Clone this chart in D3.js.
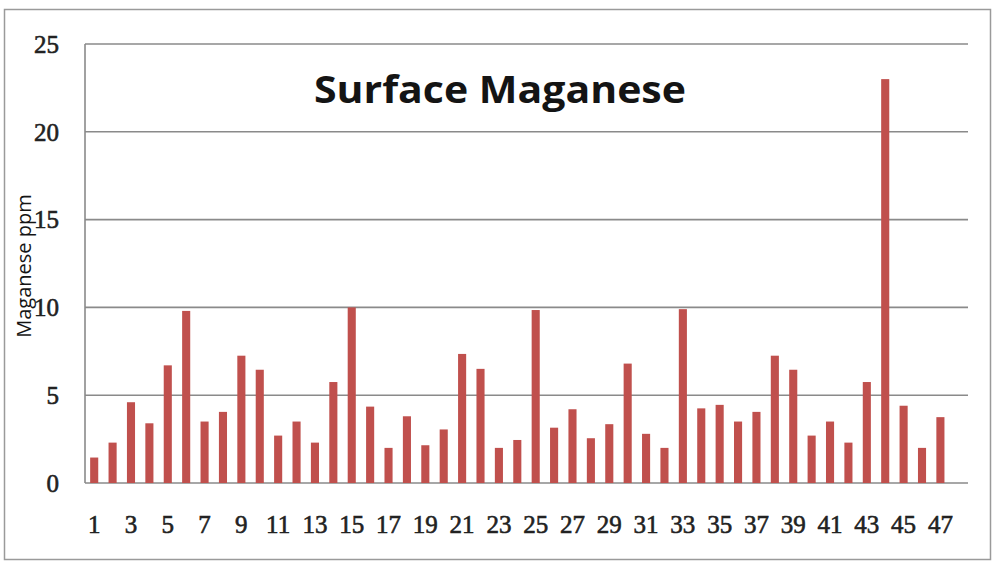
<!DOCTYPE html>
<html>
<head>
<meta charset="utf-8">
<script src="https://cdn.jsdelivr.net/npm/d3@7"></script>
<style>
  body { margin: 0; background: #fff; }
  svg { display: block; }
</style>
</head>
<body>
<div id="figure"></div>
<script>

// sample numbers 1..47, plus an empty 48th slot like the original sheet
var categories = [1,2,3,4,5,6,7,8,9,10,11,12,13,14,15,16,17,18,19,20,21,22,23,24,
                  25,26,27,28,29,30,31,32,33,34,35,36,37,38,39,40,41,42,43,44,45,46,47,48];

var manganese = [1.45, 2.3, 4.6, 3.4, 6.7, 9.8, 3.5, 4.05, 7.25, 6.45,
                 2.7, 3.5, 2.3, 5.75, 10.0, 4.35, 2.0, 3.8, 2.15, 3.05,
                 7.35, 6.5, 2.0, 2.45, 9.85, 3.15, 4.2, 2.55, 3.35, 6.8,
                 2.8, 2.0, 9.9, 4.25, 4.45, 3.5, 4.05, 7.25, 6.45, 2.7,
                 3.5, 2.3, 5.75, 23.0, 4.4, 2.0, 3.75];

var yTicks = [0, 5, 10, 15, 20, 25];
var xTickLabels = [1,3,5,7,9,11,13,15,17,19,21,23,25,27,29,31,33,35,37,39,41,43,45,47];

var W = 995, H = 563;
var plot = {left: 85, right: 968, top: 44, bottom: 483};
var gridColor = "#8a8a8a";
var barColor = "#c0504d";

var svg = d3.select("#figure").append("svg")
	.attr("width", W)
	.attr("height", H);

// outer frame
svg.append("rect")
	.attr("x", 4.5).attr("y", 9.5)
	.attr("width", 986).attr("height", 550)
	.attr("fill", "#fff")
	.attr("stroke", "#9a9a9a")
	.attr("stroke-width", 1.5);

var x = d3.scaleBand()
	.domain(categories)
	.range([plot.left, plot.right])
	.paddingInner(0.56)
	.paddingOuter(0.28);

var y = d3.scaleLinear()
	.domain([0, 25])
	.range([plot.bottom, plot.top]);

// gridlines
svg.selectAll("line.grid")
	.data(yTicks)
	.enter()
	.append("line")
	.attr("class", "grid")
	.attr("x1", plot.left)
	.attr("x2", plot.right)
	.attr("y1", function(d) { return y(d); })
	.attr("y2", function(d) { return y(d); })
	.attr("stroke", gridColor)
	.attr("stroke-width", 1.6);

// y axis line
svg.append("line")
	.attr("x1", plot.left).attr("x2", plot.left)
	.attr("y1", y(25)).attr("y2", y(0))
	.attr("stroke", gridColor)
	.attr("stroke-width", 1.6);

// bars
svg.selectAll("rect.bar")
	.data(manganese)
	.enter()
	.append("rect")
	.attr("class", "bar")
	.attr("x", function(d, i) { return x(categories[i]); })
	.attr("y", function(d) { return y(d); })
	.attr("width", x.bandwidth())
	.attr("height", function(d) { return y(0) - y(d); })
	.attr("fill", barColor);

// y tick labels
svg.selectAll("text.ytick")
	.data(yTicks)
	.enter()
	.append("text")
	.attr("class", "ytick")
	.attr("x", 59)
	.attr("y", function(d) { return y(d); })
	.attr("dy", "0.35em")
	.attr("text-anchor", "end")
	.attr("font-family", "Liberation Serif, serif")
	.attr("font-size", "25px")
	.attr("fill", "#222")
	.attr("stroke", "#222")
	.attr("stroke-width", 0.6)
	.text(function(d) { return d; });

// x tick labels (every other category)
svg.selectAll("text.xtick")
	.data(xTickLabels)
	.enter()
	.append("text")
	.attr("class", "xtick")
	.attr("x", function(d) { return x(d) + x.bandwidth() / 2; })
	.attr("y", 533)
	.attr("text-anchor", "middle")
	.attr("font-family", "Liberation Serif, serif")
	.attr("font-size", "25px")
	.attr("fill", "#222")
	.attr("stroke", "#222")
	.attr("stroke-width", 0.6)
	.text(function(d) { return d; });

// title
svg.append("text")
	.attr("x", 500)
	.attr("y", 103)
	.attr("text-anchor", "middle")
	.attr("font-family", "Open Sans, sans-serif")
	.attr("font-weight", "bold")
	.attr("font-size", "37px")
	.attr("textLength", 372)
	.attr("lengthAdjust", "spacingAndGlyphs")
	.attr("fill", "#141414")
	.text("Surface Maganese");

// y axis title
svg.append("text")
	.attr("transform", "translate(31,266)rotate(-90)")
	.attr("text-anchor", "middle")
	.attr("font-family", "Open Sans, sans-serif")
	.attr("font-size", "20px")
	.attr("fill", "#141414")
	.text("Maganese ppm");

</script>
</body>
</html>
